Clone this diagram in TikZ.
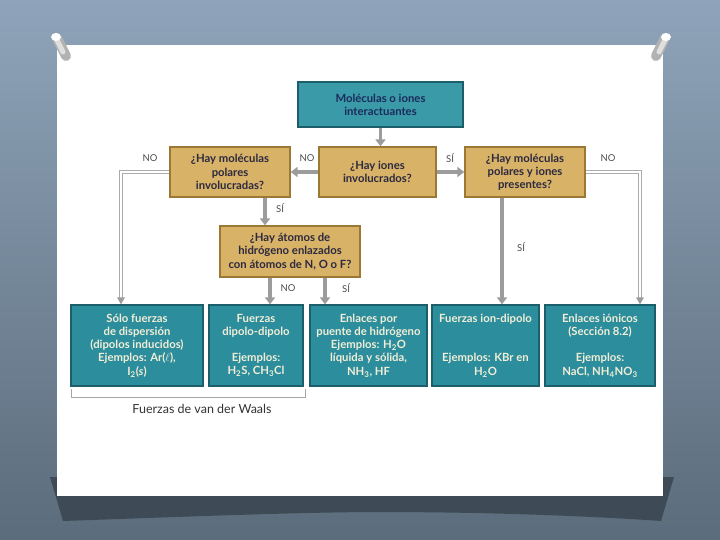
\documentclass[tikz,border=0pt]{standalone}
\usepackage{fontspec}
\setmainfont{Lato}
\usetikzlibrary{arrows.meta,calc}
\definecolor{bgtop}{HTML}{8FA4BA}
\definecolor{bgbot}{HTML}{5B6C7B}
\definecolor{shadowc}{HTML}{3E4B56}
\definecolor{tealfill}{HTML}{2C8D9D}
\definecolor{tealtop}{HTML}{3A9AA8}
\definecolor{tealdark}{HTML}{1C5F6B}
\definecolor{tanfill}{HTML}{D7B267}
\definecolor{tandark}{HTML}{9B7833}
\definecolor{navytext}{HTML}{1B2B5C}
\definecolor{tantext}{HTML}{2C2940}
\definecolor{creamtext}{HTML}{F2EED6}
\definecolor{arrgray}{HTML}{9C9C9C}
\begin{document}
\begin{tikzpicture}[x=1pt,y=-1pt,
  boxbase/.style={line width=1.3pt, align=center, inner sep=1pt,
    font=\bfseries\fontsize{11.3}{13.2}\selectfont},
  topbox/.style={boxbase, draw=tealdark, fill=tealtop, text=navytext},
  botbox/.style={boxbase, draw=tealdark, fill=tealfill, text=creamtext,
    minimum height=81pt},
  tanbox/.style={boxbase, draw=tandark, fill=tanfill, text=tantext,
    minimum height=50pt},
  arr/.style={draw=arrgray, line width=3.5pt, -{Triangle[length=7pt,width=10pt]}},
  dbl/.style={draw=arrgray!85, double=white, double distance=2.4pt, line width=0.8pt},
  lbl/.style={font=\fontsize{9.5}{11}\selectfont, text=black!70, inner sep=1pt},
  pinbody/.style={line cap=round, line width=10pt, draw=gray!60},
]
\useasboundingbox (0,0) rectangle (720,540);
% background
\shade[top color=bgtop, bottom color=bgbot] (0,0) rectangle (720,540);
% shadow under the sheet
\fill[shadowc] (50,477) -- (674,477) -- (661,521)
  .. controls (560,514) and (450,512) .. (380,512)
  .. controls (300,512) and (150,518) .. (63,521) -- cycle;
% sheet
\fill[white] (57,45) rectangle (663,496);
% pins
\draw[pinbody] (57,38) -- (66,56);
\draw[line cap=round, line width=5pt, draw=gray!25] (57,40) -- (63,52);
\fill[white] (56,37) ellipse [x radius=5pt, y radius=4pt];
\draw[pinbody] (665,38) -- (656,56);
\draw[line cap=round, line width=5pt, draw=gray!25] (665,40) -- (659,52);
\fill[white] (666,37) ellipse [x radius=5pt, y radius=4pt];

% nodes
\node[topbox, minimum width=165pt, minimum height=45pt] (top) at (380.5,104.5)
  {Moléculas o iones\\interactuantes};
\node[tanbox, minimum width=120pt] (polar) at (230,172)
  {¿Hay moléculas\\polares\\involucradas?};
\node[tanbox, minimum width=117pt] (iones) at (377.5,172)
  {¿Hay iones\\involucrados?};
\node[tanbox, minimum width=120pt] (pres) at (525,172)
  {¿Hay moléculas\\polares y iones\\presentes?};
\node[tanbox, minimum width=140pt, minimum height=51pt] (hyd) at (290,251.5)
  {¿Hay átomos de\\hidrógeno enlazados\\con átomos de N, O o F?};

\node[botbox, minimum width=132pt] (b1) at (137,345.5)
  {Sólo fuerzas\\de dispersión\\(dipolos inducidos)\\Ejemplos: Ar($\ell$),\\I\textsubscript{2}(\textit{s})};
\node[botbox, minimum width=94pt] (b2) at (256,345.5)
  {Fuerzas\\dipolo-dipolo\\\mbox{}\\Ejemplos:\\H\textsubscript{2}S, CH\textsubscript{3}Cl};
\node[botbox, minimum width=117pt] (b3) at (368.5,345.5)
  {Enlaces por\\puente de hidrógeno\\Ejemplos: H\textsubscript{2}O\\líquida y sólida,\\NH\textsubscript{3}, HF};
\node[botbox, minimum width=107pt] (b4) at (485.5,345.5)
  {Fuerzas ion-dipolo\\\mbox{}\\\mbox{}\\Ejemplos: KBr en\\H\textsubscript{2}O};
\node[botbox, minimum width=110pt] (b5) at (600,345.5)
  {Enlaces iónicos\\(Sección 8.2)\\\mbox{}\\Ejemplos:\\NaCl, NH\textsubscript{4}NO\textsubscript{3}};

% solid arrows
\draw[arr] (top.south) -- (top.south |- iones.north);
\draw[arr] (iones.west) -- (polar.east);
\draw[arr] (iones.east) -- (pres.east -| pres.west);
\draw[arr] ([xshift=35pt]polar.south) -- ([xshift=35pt]polar.south |- hyd.north);
\draw[arr] ([xshift=-20pt]hyd.south) -- ([xshift=-20pt]hyd.south |- b2.north);
\draw[arr] ([xshift=35pt]hyd.south) -- ([xshift=35pt]hyd.south |- b3.north);
\draw[arr] ([xshift=-23pt]pres.south) -- ([xshift=-23pt]pres.south |- b4.north);

% double lines
\coordinate (c1) at (121,172);
\coordinate (c2) at (640,172);
\draw[dbl] (polar.west) -- (c1) -- ($(c1 |- b1.north)+(0,-6)$);
\fill[arrgray] (c1 |- b1.north) -- ++(-4,-7) -- ++(8,0) -- cycle;
\draw[dbl] (pres.east) -- (c2) -- ($(c2 |- b5.north)+(0,-6)$);
\fill[arrgray] (c2 |- b5.north) -- ++(-4,-7) -- ++(8,0) -- cycle;

% labels
\node[lbl] (l1) at (150,158) {NO};
\node[lbl] (l2) at (307,158) {NO};
\node[lbl] (l3) at (450,158) {SÍ};
\node[lbl] (l4) at (608,158) {NO};
\node[lbl] (l5) at (280,208) {SÍ};
\node[lbl] (l6) at (288,288) {NO};
\node[lbl] (l7) at (346,288) {SÍ};
\node[lbl] (l8) at (521,247) {SÍ};

% bracket
\draw[gray!70, line width=0.6pt] (71,389) -- (71,397) -- (305,397) -- (305,389);
\node[font=\fontsize{12.5}{14}\selectfont, text=black!80] (vdw) at (202,409) {Fuerzas de van der Waals};
\end{tikzpicture}
\end{document}
